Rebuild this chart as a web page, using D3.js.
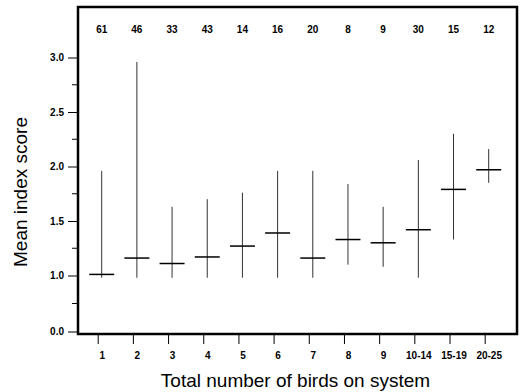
<!DOCTYPE html>
<html><head><meta charset="utf-8">
<script src="https://cdn.jsdelivr.net/npm/d3@7"></script>
<style>body{margin:0;background:#fff}svg{display:block}text{font-family:"Liberation Sans",Arial,sans-serif}</style>
</head><body><svg id="c" width="520" height="392"></svg>
<script>
const categories = ["1","2","3","4","5","6","7","8","9","10-14","15-19","20-25"];
const counts = [61,46,33,43,14,16,20,8,9,30,15,12];
const means = [1.01,1.16,1.11,1.17,1.27,1.39,1.16,1.33,1.30,1.42,1.79,1.97];
const mins = [0.96,0.96,0.96,0.96,0.96,0.96,0.96,1.10,1.08,0.96,1.33,1.85];
const maxs = [1.96,2.96,1.63,1.70,1.76,1.96,1.96,1.84,1.63,2.06,2.30,2.16];
const yTickValues = [0,1,1.5,2,2.5,3];
const yMinorTicks = [0.5,1.25,1.75,2.25,2.75];

const svg = d3.select("#c");
const frame = {l:78, t:7, r:517, b:334};
const x = d3.scalePoint().domain(categories).range([101.7, 488.7]);
const y = d3.scaleLinear().domain([0,1,3]).range([331.5,275.5,57.5]);

// frame
svg.append("rect").attr("x",frame.l).attr("y",frame.t)
  .attr("width",frame.r-frame.l).attr("height",frame.b-frame.t)
  .attr("fill","none").attr("stroke","#000").attr("stroke-width",2.5);

// y axis
const yAxis = d3.axisLeft(y).tickValues(yTickValues).tickFormat(d3.format(".1f")).tickSize(9).tickPadding(4);
const gy = svg.append("g").attr("transform",`translate(${frame.l-1},0)`).call(yAxis);
gy.select(".domain").remove();
gy.selectAll("text").attr("font-size",10).attr("font-weight","bold").attr("fill","#000");
gy.selectAll("line").attr("stroke","#000");
svg.append("g").selectAll("line").data(yMinorTicks).join("line")
  .attr("x1",frame.l-6).attr("x2",frame.l-1).attr("y1",d=>y(d)).attr("y2",d=>y(d)).attr("stroke","#000");

// x axis
const xAxis = d3.axisBottom(x).tickSize(9).tickPadding(8);
const gx = svg.append("g").attr("transform",`translate(0,${frame.b+1})`).call(xAxis);
gx.select(".domain").remove();
gx.selectAll("line").attr("transform","translate(-4,0)").attr("stroke","#000");
gx.selectAll("text").attr("font-size",10).attr("font-weight","bold").attr("fill","#000");

// counts
svg.append("g").selectAll("text").data(categories).join("text")
  .attr("x",d=>x(d)).attr("y",33).attr("text-anchor","middle")
  .attr("font-size",10).attr("font-weight","bold").text((d,i)=>counts[i]);

// ranges
svg.append("g").selectAll("line").data(categories).join("line")
  .attr("x1",d=>x(d)).attr("x2",d=>x(d))
  .attr("y1",(d,i)=>y(mins[i])).attr("y2",(d,i)=>y(maxs[i]))
  .attr("stroke","#333").attr("stroke-width",1);
// means
svg.append("g").selectAll("line").data(categories).join("line")
  .attr("x1",d=>x(d)-12.5).attr("x2",d=>x(d)+12.5)
  .attr("y1",(d,i)=>y(means[i])).attr("y2",(d,i)=>y(means[i]))
  .attr("stroke","#000").attr("stroke-width",1.5);

// titles
svg.append("text").attr("x",295.5).attr("y",387).attr("text-anchor","middle")
  .attr("font-size",19).text("Total number of birds on system");
svg.append("text").attr("transform","translate(27,192) rotate(-90)").attr("text-anchor","middle")
  .attr("font-size",19).text("Mean index score");
</script></body></html>
